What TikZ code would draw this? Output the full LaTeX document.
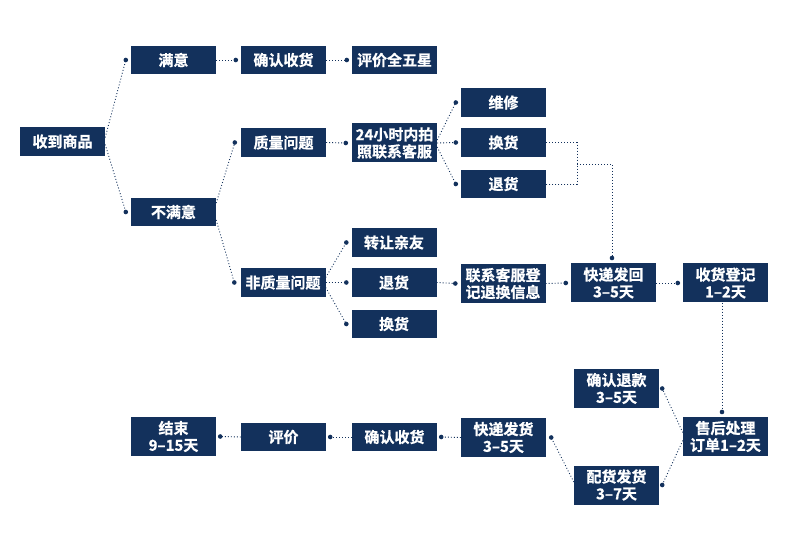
\documentclass[tikz,border=0pt]{standalone}
\usepackage{fontspec}
\newfontfamily\cjk{Noto Sans CJK SC}[BoldFont={Noto Sans CJK SC Bold}, BoldFeatures={FakeBold=0.8}]
\usetikzlibrary{calc}
\definecolor{navy}{RGB}{19,49,92}
\tikzset{
  box/.style={fill=navy, text=white, minimum width=85pt, minimum height=28.5pt, inner sep=0pt,
    font=\cjk\bfseries\fontsize{15}{17}\selectfont, align=center},
  tall/.style={box, minimum height=39pt},
  link/.style={draw=navy, line width=0.9pt, dash pattern=on 0.9pt off 2.1pt},
  dotmark/.style={fill=navy}
}
\newcommand\linkdot[1]{\fill[dotmark] (#1) circle (2.3pt);}
\begin{document}
\begin{tikzpicture}[x=1pt,y=-1pt]
\useasboundingbox (0,0) rectangle (790,553);
\fill[white] (0,0) rectangle (790,553);
% nodes
\node[box] (n1) at (62.5,141.5) {收到商品};
\node[box] (n2) at (173.5,60) {满意};
\node[box] (n3) at (173.5,212) {不满意};
\node[box] (n4) at (283.5,60) {确认收货};
\node[box] (n5) at (394.5,60) {评价全五星};
\node[box] (n6) at (283.5,142.5) {质量问题};
\node[tall] (n7) at (394.5,143) {24小时内拍\\照联系客服};
\node[box] (n8) at (503.5,102.5) {维修};
\node[box] (n9) at (503.5,142.5) {换货};
\node[box] (n10) at (503.5,184) {退货};
\node[box] (n11) at (283,282.5) {非质量问题};
\node[box] (n12) at (394,242.5) {转让亲友};
\node[box] (n13) at (394,282.5) {退货};
\node[box] (n14) at (394,324) {换货};
\node[tall] (n15) at (503,283.5) {联系客服登\\记退换信息};
\node[tall] (n16) at (613.5,283) {快递发回\\3–5天};
\node[tall] (n17) at (725.5,283) {收货登记\\1–2天};
\node[tall] (n18) at (616.5,388.5) {确认退款\\3–5天};
\node[tall] (n19) at (725.5,436.5) {售后处理\\订单1–2天};
\node[tall] (n20) at (616.5,485) {配货发货\\3–7天};
\node[tall] (n21) at (173.5,436.5) {结束\\9–15天};
\node[box] (n22) at (283.5,437) {评价};
\node[box] (n23) at (394.5,437) {确认收货};
\node[tall] (n24) at (503.5,437.5) {快递发货\\3–5天};
% dot coordinates
\coordinate (d2) at ($(n2.west)+(-5,0)$);
\coordinate (d3) at ($(n3.west)+(-5,0)$);
\coordinate (d4) at ($(n4.west)+(-5,0)$);
\coordinate (d5) at ($(n5.west)+(-5,0)$);
\coordinate (d6) at ($(n6.west)+(-6,0)$);
\coordinate (d7) at ($(n7.west)+(-6,0)$);
\coordinate (d8) at ($(n8.west)+(-5,0)$);
\coordinate (d9) at ($(n9.west)+(-5,0)$);
\coordinate (d10) at ($(n10.west)+(-5,0)$);
\coordinate (d11) at ($(n11.west)+(-6,0)$);
\coordinate (d12) at ($(n12.west)+(-5,0)$);
\coordinate (d13) at ($(n13.west)+(-5,0)$);
\coordinate (d14) at ($(n14.west)+(-5,0)$);
\coordinate (d15) at ($(n15.west)+(-5,0)$);
\coordinate (d16) at ($(n16.west)+(-5,0)$);
\coordinate (d17) at ($(n17.west)+(-5,0)$);
\coordinate (d18) at ($(n18.east)+(3,0)$);
\coordinate (d20) at ($(n20.east)+(3,0)$);
\coordinate (d24) at ($(n24.east)+(5,0)$);
\coordinate (d23) at ($(n23.east)+(4,0)$);
\coordinate (d22) at ($(n22.east)+(4,0)$);
\coordinate (d21) at ($(n21.east)+(4,0)$);
\coordinate (dtop) at (612,258);
\coordinate (d19) at (722,412);
\coordinate (bx) at (577,164);
% connectors
\draw[link] ($(n1.east)+(0,-4)$) -- (d2);
\draw[link] ($(n1.east)+(0,3)$) -- (d3);
\draw[link] (n2.east) -- (d4);
\draw[link] (n4.east) -- (d5);
\draw[link] ($(n3.east)+(0,-9)$) -- (d6);
\draw[link] ($(n3.east)+(0,8)$) -- (d11);
\draw[link] (n6.east) -- (d7);
\draw[link] ($(n7.east)+(0,-3)$) -- (d8);
\draw[link] (n7.east) -- (d9);
\draw[link] ($(n7.east)+(0,4)$) -- (d10);
\draw[link] ($(n11.east)+(0,-5)$) -- (d12);
\draw[link] (n11.east) -- (d13);
\draw[link] ($(n11.east)+(0,5)$) -- (d14);
\draw[link] (n13.east) -- (d15);
\draw[link] (n15.east) -- (d16);
\draw[link] (n16.east) -- (d17);
\draw[link] (n9.east) -| (bx) |- (n10.east);
\draw[link] (bx) -| (dtop);
\draw[link] (n17.south -| d19) -- (d19);
\draw[link] ($(n19.west)+(0,-4)$) -- (d18);
\draw[link] ($(n19.west)+(0,4)$) -- (d20);
\draw[link] ($(n20.west)+(0,-3)$) -- (d24);
\draw[link] (n24.west) -- (d23);
\draw[link] (n23.west) -- (d22);
\draw[link] (n22.west) -- (d21);
% dots
\foreach \d in {d2,d3,d4,d5,d6,d7,d8,d9,d10,d11,d12,d13,d14,d15,d16,d17,d18,d20,d24,d23,d22,d21,dtop,d19}{\linkdot{\d}}
\end{tikzpicture}
\end{document}
